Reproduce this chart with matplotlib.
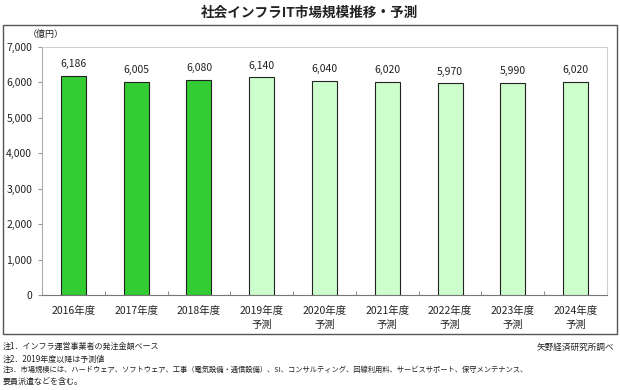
import matplotlib
matplotlib.use("Agg")
import matplotlib.pyplot as plt
from matplotlib.patches import Rectangle

plt.rcParams['font.family'] = ['Noto Sans CJK JP', 'DejaVu Sans']

title = "社会インフラIT市場規模推移・予測"
categories = ["2016年度", "2017年度", "2018年度", "2019年度\n予測", "2020年度\n予測",
              "2021年度\n予測", "2022年度\n予測", "2023年度\n予測", "2024年度\n予測"]
values = [6186, 6005, 6080, 6140, 6040, 6020, 5970, 5990, 6020]
is_forecast = [False, False, False, True, True, True, True, True, True]
yticks = [0, 1000, 2000, 3000, 4000, 5000, 6000, 7000]
unit = "（億円）"
notes = ["注1．インフラ運営事業者の発注金額ベース",
         "注2．2019年度以降は予測値",
         "注3．市場規模には、ハードウェア、ソフトウェア、工事（電気設備・通信設備）、SI、コンサルティング、回線利用料、サービスサポート、保守メンテナンス、",
         "要員派遣などを含む。"]
source = "矢野経済研究所調べ"

W, H = 620, 390
fig = plt.figure(figsize=(W/100, H/100), dpi=100)

# outer frame
fig.patches.append(Rectangle((3/W, 1-334/H), 614/W, 309/H, transform=fig.transFigure,
                             fill=False, edgecolor='#555555', linewidth=1.0))

ax = fig.add_axes([42/W, 1-295/H, (607-42)/W, (295-47)/H])
colors = ['#CCFFCC' if f else '#33CC33' for f in is_forecast]
x = list(range(len(categories)))
ax.bar(x, values, width=0.4, color=colors, edgecolor='#222222', linewidth=0.8, zorder=3)
for xi, v in zip(x, values):
    ax.annotate(f"{v:,}", (xi, v), xytext=(0, 5), textcoords='offset points',
                ha='center', va='bottom', fontsize=7.5, color='#222222')

ax.set_xlim(-0.5, len(categories)-0.5)
ax.set_ylim(0, 7000)
ax.set_yticks(yticks)
ax.set_yticklabels([f"{t:,}" for t in yticks], fontsize=7.5, color='#222222')
ax.set_xticks(x)
ax.set_xticklabels(categories, fontsize=7.5, color='#222222', linespacing=1.5)
ax.tick_params(axis='x', length=0, pad=8)
ax.tick_params(axis='y', length=3, color='#999999', pad=4)
# category boundary ticks
ax.set_xticks([i + 0.5 for i in range(len(categories)-1)], minor=True)
ax.tick_params(axis='x', which='minor', length=3, direction='in', color='#777777')
for s in ['top', 'right']:
    ax.spines[s].set_color('#d0d0d0')
ax.spines['left'].set_color('#aaaaaa')
ax.spines['bottom'].set_color('#777777')
for s in ax.spines.values():
    s.set_linewidth(0.8)

fig.text(310/W, 1-13/H, title, ha='center', va='center', fontsize=9.8, fontweight='bold', color='#222222')
fig.text(46/W, 1-34/H, unit, ha='center', va='center', fontsize=6.5, color='#222222')

ys = [346, 359, 370, 381]
note_sizes = [5.8, 5.8, 5.25, 5.8]
for note, yy, fs in zip(notes, ys, note_sizes):
    fig.text(3/W, 1-yy/H, note, ha='left', va='center', fontsize=fs, color='#222222')
fig.text(614/W, 1-347/H, source, ha='right', va='center', fontsize=6.2, color='#222222')

fig.savefig("out.png", dpi=100)
